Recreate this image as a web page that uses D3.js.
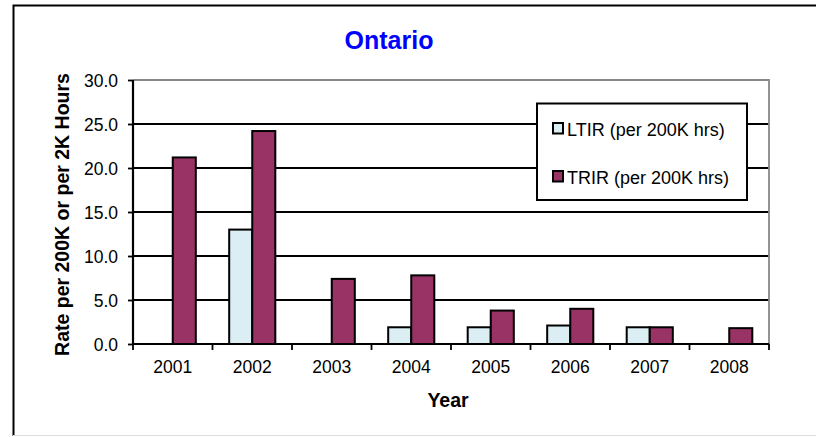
<!DOCTYPE html>
<html><head><meta charset="utf-8">
<script src="https://cdn.jsdelivr.net/npm/d3@7/dist/d3.min.js"></script>
<style>body{margin:0;background:#fff}svg{display:block}text{font-family:"Liberation Sans",Arial,sans-serif}</style>
</head><body>
<script>
const years = ["2001","2002","2003","2004","2005","2006","2007","2008"];
const seriesNames = ["LTIR (per 200K hrs)","TRIR (per 200K hrs)"];
const ltir = [0, 13.0, 0, 1.9, 1.9, 2.1, 1.9, 0];
const trir = [21.2, 24.2, 7.4, 7.8, 3.8, 4.0, 1.9, 1.8];
const yTicks = [0,5,10,15,20,25,30];
const colors = ["#DAEEF3","#993366"];

const W=816,H=437;
const svg=d3.select("body").append("svg").attr("width",W).attr("height",H);
// outer border
svg.append("path").attr("d","M13.5,436 L13.5,5.5 L816,5.5").attr("fill","none").attr("stroke","#000").attr("stroke-width",2);
svg.append("line").attr("x1",13).attr("x2",816).attr("y1",435.5).attr("y2",435.5).attr("stroke","#ddd").attr("stroke-width",1);

const L=133,R=769,T=80,B=344;
const x=d3.scaleBand().domain(years).range([L,R]).paddingInner(0).paddingOuter(0);
const y=d3.scaleLinear().domain([0,30]).range([B,T]);
const bw=x.bandwidth()*0.29;

// gridlines
svg.append("g").selectAll("line").data(yTicks.filter(t=>t>0&&t<30)).join("line")
 .attr("x1",L).attr("x2",R).attr("y1",d=>y(d)).attr("y2",d=>y(d)).attr("stroke","#000").attr("stroke-width",1.8);
// plot border top/right gray
svg.append("path").attr("d",`M${L},${T} L${R},${T} L${R},${B}`).attr("fill","none").attr("stroke","#888").attr("stroke-width",1.8);

// bars
const data=[ltir,trir];
data.forEach((vals,si)=>{
  svg.append("g").selectAll("rect").data(years.map((yr,i)=>({yr,v:vals[i]})).filter(d=>d.v>0)).join("rect")
   .attr("x",d=>x(d.yr)+x.bandwidth()/2+(si-1)*bw)
   .attr("y",d=>y(d.v)).attr("width",bw).attr("height",d=>B-y(d.v))
   .attr("fill",colors[si]).attr("stroke","#000").attr("stroke-width",2);
});

// y axis
const ya=svg.append("g").attr("transform",`translate(${L},0)`).call(d3.axisLeft(y).tickValues(yTicks).tickSize(5).tickPadding(10).tickFormat(d3.format(".1f")));
ya.select(".domain").attr("stroke","#000").attr("stroke-width",2.2).attr("d",`M0,${T}V${B}`);
ya.selectAll(".tick line").attr("stroke","#000").attr("stroke-width",1.8);
ya.selectAll(".tick text").attr("font-size",17.5).attr("fill","#000").attr("font-family","Liberation Sans, Arial, sans-serif").attr("dy","0.36em");

// x axis
const xa=svg.append("g").attr("transform",`translate(0,${B})`).call(d3.axisBottom(x).tickSize(0).tickPadding(18));
xa.select(".domain").attr("stroke","#000").attr("stroke-width",2.2).attr("d",`M${L},0H${R}`);
xa.selectAll(".tick text").attr("font-size",17.5).attr("fill","#000").attr("font-family","Liberation Sans, Arial, sans-serif").attr("dy","0.62em");
svg.append("g").selectAll("line").data(d3.range(years.length+1)).join("line")
 .attr("x1",i=>L+i*x.step()).attr("x2",i=>L+i*x.step()).attr("y1",B).attr("y2",B+6).attr("stroke","#000").attr("stroke-width",1.8);

// title
svg.append("text").attr("x",389).attr("y",49).attr("text-anchor","middle").attr("font-size",25).attr("font-weight","bold").attr("fill","#0000FF").text("Ontario");
// axis titles
svg.append("text").attr("x",448).attr("y",407).attr("text-anchor","middle").attr("font-size",19.5).attr("font-weight","bold").text("Year");
svg.append("text").attr("transform","translate(69,214.5) rotate(-90)").attr("text-anchor","middle").attr("font-size",19.5).attr("font-weight","bold").text("Rate per 200K or per 2K Hours");

// legend
const lg=svg.append("g");
lg.append("rect").attr("x",537).attr("y",103.5).attr("width",210).attr("height",96.5).attr("fill","#fff").attr("stroke","#000").attr("stroke-width",2);
seriesNames.forEach((n,i)=>{
  const cy=128+i*48;
  lg.append("rect").attr("x",553).attr("y",cy-5).attr("width",10).attr("height",10.5).attr("fill",colors[i]).attr("stroke","#000").attr("stroke-width",2);
  lg.append("text").attr("x",567).attr("y",cy+7.5).attr("font-size",18).text(n);
});
</script>
</body></html>
